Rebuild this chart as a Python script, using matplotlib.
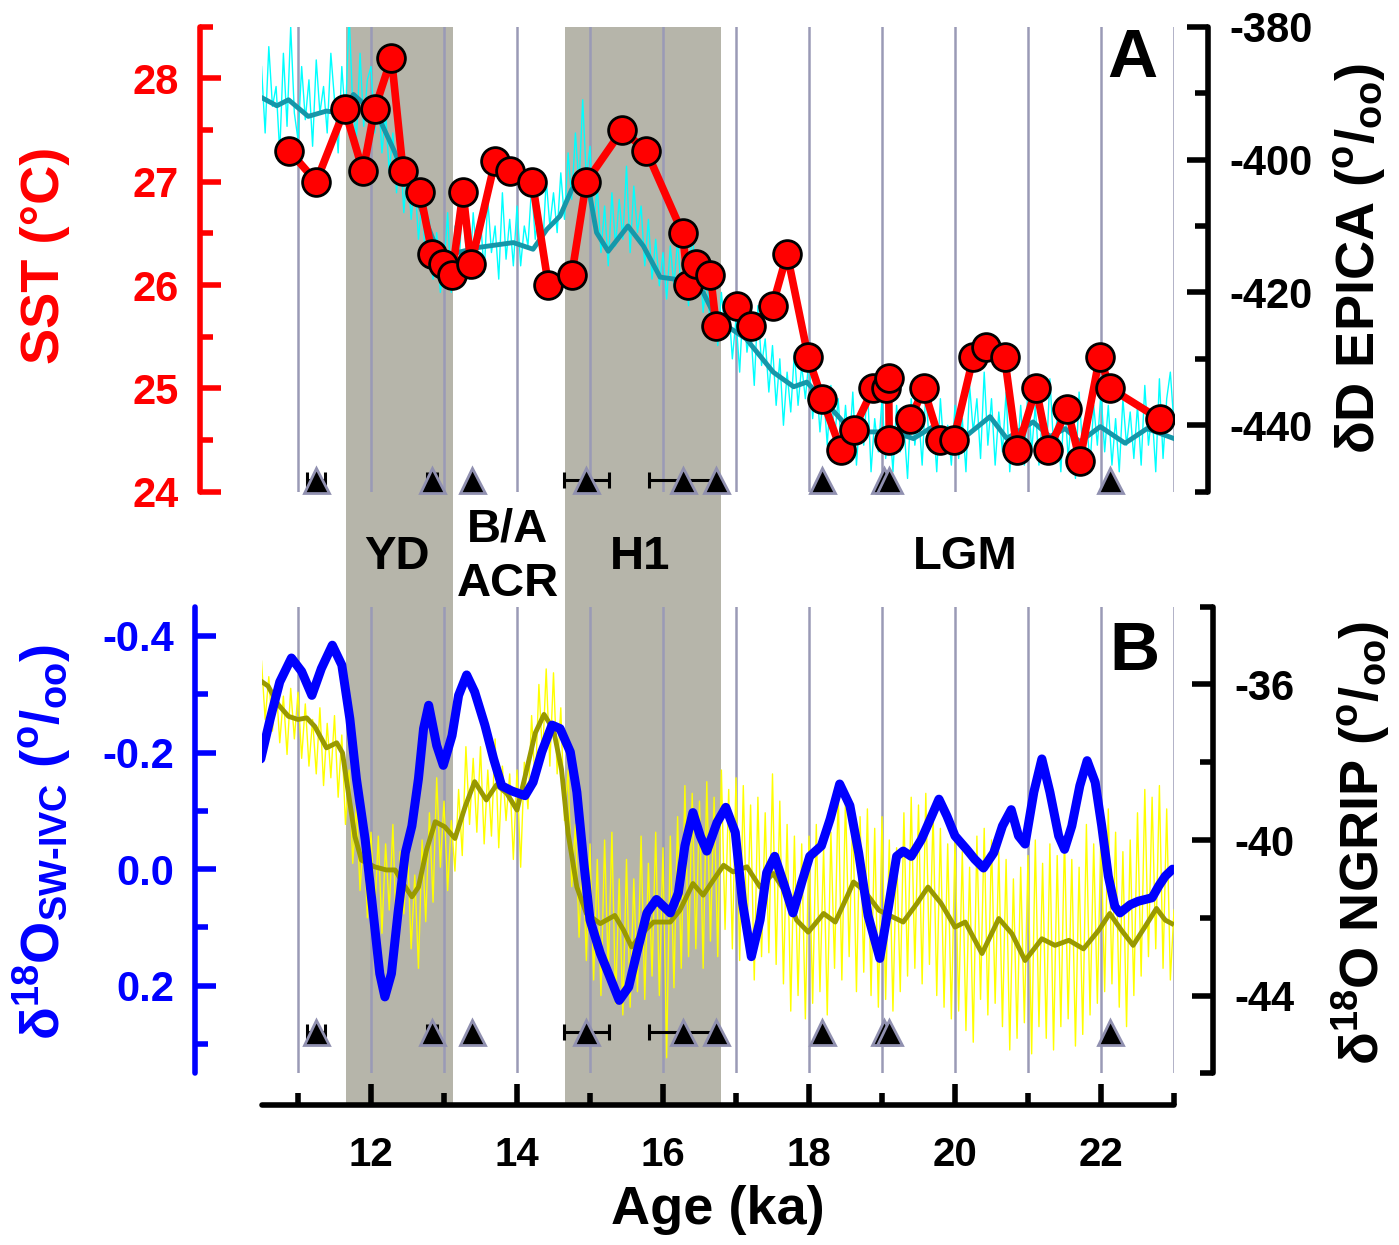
import numpy as np
import matplotlib.pyplot as plt

plt.rcParams['font.family'] = ['Liberation Sans', 'DejaVu Sans']
plt.rcParams['font.weight'] = 'bold'
plt.rcParams['mathtext.fontset'] = 'custom'
plt.rcParams['mathtext.rm'] = 'Liberation Sans:bold'
plt.rcParams['mathtext.it'] = 'Liberation Sans:bold'
plt.rcParams['mathtext.bf'] = 'Liberation Sans:bold'
plt.rcParams['axes.unicode_minus'] = False

# ---- data ----
zones = [(11.66, 13.12), (14.66, 16.79)]   # YD, H1

# SST (left axis, panel A)
sst_age = [10.88, 11.25, 11.64, 11.89, 12.05, 12.28, 12.44, 12.67, 12.84, 12.99,
           13.11, 13.26, 13.37, 13.70, 13.90, 14.21, 14.43, 14.75, 14.95, 15.44,
           15.77, 16.27, 16.34, 16.45, 16.65, 16.73, 17.02, 17.20, 17.50, 17.70,
           17.99, 18.18, 18.44, 18.61, 18.88, 19.06, 19.09, 19.10, 19.39, 19.57,
           19.79, 19.98, 20.25, 20.42, 20.68, 20.85, 21.11, 21.28, 21.54, 21.71,
           21.98, 22.13, 22.81]
sst = [27.3, 27.0, 27.7, 27.1, 27.7, 28.2, 27.1, 26.9, 26.3, 26.2,
       26.1, 26.9, 26.2, 27.2, 27.1, 27.0, 26.0, 26.1, 27.0, 27.5,
       27.3, 26.5, 26.0, 26.2, 26.1, 25.6, 25.8, 25.6, 25.8, 26.3,
       25.3, 24.9, 24.4, 24.6, 25.0, 25.0, 25.1, 24.5, 24.7, 25.0,
       24.5, 24.5, 25.3, 25.4, 25.3, 24.4, 25.0, 24.4, 24.8, 24.3,
       25.3, 25.0, 24.7]

# EPICA dD raw (right axis, panel A), 0.05 ka steps from 10.5 to 23.0
epica_age = np.round(np.arange(10.5, 23.0001, 0.05), 2)
epica_raw = [
    -386, -396, -383, -392, -389, -399, -384, -395, -380, -393,
    -397, -386, -394, -388, -398, -385, -393, -389, -396, -384,
    -391, -399, -386, -394, -378, -392, -397, -384, -395, -388,
    -386, -396, -390, -399, -393, -402, -396, -405, -398, -408,
    -400, -409, -403, -412, -406, -416, -409, -418, -411, -420,
    -416, -408, -420, -410, -417, -407, -413, -418, -408, -415,
    -409, -417, -406, -414, -410, -418, -405, -415, -409, -416,
    -407, -416, -410, -413, -404, -412, -407, -414, -403, -410,
    -405, -411, -402, -409, -399, -406, -396, -404, -391, -403,
    -398, -410, -404, -414, -407, -416, -405, -413, -406, -412,
    -401, -414, -404, -411, -407, -416, -409, -418, -412, -419,
    -414, -421, -413, -419, -412, -420, -415, -422, -410, -419,
    -414, -423, -417, -426, -419, -428, -420, -426, -422, -430,
    -424, -432, -421, -429, -425, -434, -422, -431, -427, -435,
    -428, -437, -430, -440, -432, -438, -429, -437, -431, -436,
    -430, -439, -433, -441, -435, -443, -434, -442, -436, -445,
    -437, -444, -435, -446, -438, -443, -434, -447, -439, -444,
    -436, -445, -439, -447, -437, -444, -440, -448, -436, -443,
    -438, -446, -435, -443, -439, -447, -436, -444, -440, -446,
    -437, -445, -439, -447, -434, -441, -436, -445, -432, -443,
    -436, -446, -438, -444, -435, -447, -439, -445, -437, -446,
    -434, -444, -437, -446, -438, -445, -433, -443, -439, -447,
    -436, -445, -438, -448, -435, -444, -439, -446, -437, -443,
    -435, -444, -437, -446, -439, -447, -436, -443, -438, -445,
    -437, -446, -434, -443, -438, -447, -433, -445, -436, -432,
    -440]

# EPICA dD smoothed
epica_sm_age = [10.49, 10.71, 10.87, 11.14, 11.39, 11.58, 11.76, 11.94, 12.12, 12.31,
                12.49, 12.67, 12.85, 12.99, 13.49, 13.95, 14.22, 14.41, 14.59, 14.75,
                14.95, 15.09, 15.25, 15.52, 15.73, 15.96, 16.16, 16.55, 16.73, 17.14,
                17.51, 17.79, 17.97, 18.24, 18.47, 18.79, 19.15, 19.43, 19.70, 19.95,
                20.11, 20.48, 20.71, 21.07, 21.30, 21.51, 21.71, 21.99, 22.33, 22.63,
                23.00]
epica_sm = [-390.6, -391.9, -391.0, -393.5, -392.7, -393.0, -390.2, -392.0, -394.0, -398.5,
            -403.0, -407.0, -412.0, -414.5, -413.2, -412.5, -413.5, -410.5, -408.5, -404.5,
            -402.5, -411.0, -413.8, -410.0, -413.0, -417.7, -418.0, -420.0, -424.0, -427.0,
            -432.0, -434.2, -433.5, -436.7, -439.5, -441.0, -441.0, -442.0, -440.2, -441.5,
            -442.0, -438.7, -442.0, -439.5, -441.7, -440.5, -442.5, -440.2, -442.7, -440.5,
            -442.0]

# d18O sw-ivc (left axis, panel B)
sw_age = [10.49, 10.62, 10.75, 10.91, 11.05, 11.19, 11.32, 11.47, 11.60, 11.71,
          11.80, 11.92, 12.03, 12.12, 12.19, 12.28, 12.37, 12.47, 12.56, 12.65,
          12.72, 12.79, 12.90, 12.99, 13.11, 13.20, 13.31, 13.42, 13.56, 13.68,
          13.79, 13.93, 14.11, 14.22, 14.34, 14.48, 14.59, 14.73, 14.82, 14.91,
          15.00, 15.14, 15.27, 15.40, 15.53, 15.64, 15.78, 15.91, 16.10, 16.21,
          16.30, 16.41, 16.51, 16.60, 16.74, 16.86, 16.99, 17.09, 17.21, 17.33,
          17.42, 17.53, 17.65, 17.78, 17.90, 18.01, 18.17, 18.29, 18.42, 18.56,
          18.68, 18.81, 18.97, 19.09, 19.20, 19.29, 19.40, 19.54, 19.68, 19.78,
          19.89, 20.00, 20.16, 20.27, 20.39, 20.53, 20.65, 20.77, 20.87, 20.96,
          21.08, 21.19, 21.30, 21.42, 21.50, 21.60, 21.71, 21.81, 21.92, 22.01,
          22.10, 22.19, 22.26, 22.40, 22.51, 22.70, 22.79, 22.88, 22.98]
sw = [-0.189, -0.258, -0.321, -0.362, -0.339, -0.298, -0.344, -0.384, -0.350, -0.258,
      -0.155, -0.051, 0.075, 0.179, 0.219, 0.179, 0.075, -0.028, -0.074, -0.155,
      -0.241, -0.281, -0.212, -0.178, -0.229, -0.298, -0.333, -0.304, -0.247, -0.189,
      -0.143, -0.134, -0.126, -0.149, -0.201, -0.247, -0.241, -0.201, -0.132, -0.017,
      0.087, 0.144, 0.184, 0.225, 0.202, 0.144, 0.075, 0.052, 0.075, 0.041,
      -0.040, -0.097, -0.057, -0.031, -0.080, -0.106, -0.063, 0.058, 0.150, 0.087,
      0.006, -0.022, 0.023, 0.075, 0.023, -0.022, -0.040, -0.086, -0.146, -0.109,
      -0.028, 0.080, 0.153, 0.064, -0.022, -0.031, -0.022, -0.051, -0.091, -0.120,
      -0.091, -0.057, -0.034, -0.017, -0.002, -0.028, -0.074, -0.102, -0.057, -0.043,
      -0.132, -0.189, -0.132, -0.057, -0.034, -0.074, -0.143, -0.186, -0.149, -0.074,
      0.012, 0.064, 0.075, 0.061, 0.055, 0.049, 0.029, 0.012, 0.000]

# NGRIP d18O raw (right axis, panel B), 0.05 ka steps
ngrip_age = np.round(np.arange(10.5, 23.0001, 0.05), 2)
ngrip_raw = [
    -35.4, -36.9, -35.8, -37.2, -36.0, -37.5, -36.3, -37.8, -36.1, -37.4,
    -36.2, -37.9, -36.5, -38.1, -36.9, -38.3, -36.6, -38.6, -37.0, -38.4,
    -36.8, -38.9, -37.3, -39.6, -38.2, -40.6, -39.1, -41.3, -39.7, -42.0,
    -39.8, -41.9, -39.9, -42.4, -40.1, -41.8, -39.6, -42.7, -40.3, -41.9,
    -40.2, -42.8, -40.9, -43.3, -40.0, -42.1, -39.3, -41.6, -38.4, -40.7,
    -39.0, -41.3, -39.5, -40.8, -38.7, -40.4, -37.6, -39.6, -37.9, -39.8,
    -37.6, -40.1, -38.2, -39.9, -37.4, -40.2, -38.1, -39.5, -38.3, -40.5,
    -38.2, -40.7, -38.0, -39.2, -36.8, -38.6, -36.0, -37.9, -35.6, -38.1,
    -35.7, -38.3, -36.6, -39.5, -38.2, -41.2, -39.6, -42.5, -40.3, -43.1,
    -40.1, -43.6, -40.5, -44.0, -40.0, -43.4, -39.8, -44.2, -41.0, -44.5,
    -40.5, -44.3, -41.0, -43.9, -39.9, -44.1, -40.6, -43.5, -39.8, -44.0,
    -40.2, -45.6, -39.9, -43.8, -39.4, -43.3, -38.6, -43.0, -38.8, -42.8,
    -39.0, -43.3, -38.5, -42.6, -38.9, -43.0, -38.2, -42.3, -38.7, -42.8,
    -38.4, -43.1, -38.6, -42.5, -39.1, -43.6, -38.9, -43.0, -39.3, -42.9,
    -38.3, -43.2, -39.0, -43.7, -39.6, -44.4, -39.9, -44.0, -40.1, -44.6,
    -39.9, -44.2, -39.6, -43.9, -40.2, -44.5, -39.8, -43.3, -38.7, -43.6,
    -38.9, -43.0, -39.3, -43.9, -39.4, -43.4, -39.2, -44.0, -39.7, -44.3,
    -39.4, -44.1, -40.0, -44.4, -40.2, -43.9, -39.3, -43.5, -38.9, -43.3,
    -39.1, -43.7, -38.8, -43.2, -39.3, -44.0, -39.7, -44.3, -40.1, -44.6,
    -40.0, -44.4, -40.3, -44.9, -40.7, -45.2, -39.9, -44.1, -39.7, -44.5,
    -40.0, -44.2, -40.3, -44.8, -40.5, -45.4, -41.0, -45.1, -40.7, -44.7,
    -40.4, -45.5, -40.0, -44.8, -40.6, -45.1, -40.1, -45.4, -40.4, -44.8,
    -39.9, -44.6, -40.5, -45.3, -40.7, -45.0, -39.6, -44.5, -40.1, -44.2,
    -39.7, -43.9, -39.2, -43.7, -39.8, -44.3, -40.3, -44.8, -40.0, -44.0,
    -39.3, -43.5, -38.7, -43.0, -38.9, -42.8, -38.6, -43.3, -39.2, -43.6,
    -41.8]

# NGRIP smoothed
ngrip_sm_age = [10.49, 10.59, 10.73, 10.87, 11.00, 11.12, 11.23, 11.39, 11.53, 11.61,
                11.69, 11.78, 11.87, 12.05, 12.21, 12.33, 12.44, 12.56, 12.65, 12.76,
                12.88, 13.01, 13.15, 13.29, 13.42, 13.58, 13.72, 13.86, 14.00, 14.11,
                14.25, 14.37, 14.50, 14.61, 14.70, 14.82, 14.95, 15.14, 15.34, 15.46,
                15.57, 15.71, 15.87, 16.10, 16.23, 16.41, 16.55, 16.69, 16.83, 16.96,
                17.15, 17.33, 17.51, 17.69, 17.83, 17.99, 18.20, 18.36, 18.52, 18.61,
                18.75, 18.96, 19.29, 19.48, 19.63, 19.81, 20.00, 20.14, 20.37, 20.60,
                20.78, 20.96, 21.19, 21.37, 21.56, 21.76, 21.97, 22.12, 22.28, 22.44,
                22.60, 22.76, 22.88, 22.97]
ngrip_sm = [-35.91, -36.04, -36.52, -36.82, -36.90, -36.86, -37.08, -37.63, -37.50, -37.76,
            -38.79, -39.91, -40.52, -40.69, -40.77, -40.77, -41.12, -41.46, -41.21, -40.26,
            -39.53, -39.66, -39.96, -39.14, -38.50, -38.97, -38.58, -38.80, -39.23, -38.37,
            -37.25, -36.77, -37.16, -38.19, -39.83, -41.21, -41.89, -42.15, -41.94, -42.32,
            -42.75, -42.41, -42.11, -42.11, -41.81, -41.12, -41.42, -41.03, -40.65, -40.82,
            -40.69, -41.21, -40.86, -41.38, -42.06, -42.37, -41.89, -42.11, -41.46, -41.08,
            -41.29, -41.81, -42.11, -41.63, -41.21, -41.63, -42.24, -42.11, -42.92, -42.02,
            -42.41, -43.10, -42.54, -42.71, -42.58, -42.80, -42.32, -41.89, -42.32, -42.71,
            -42.24, -41.76, -42.06, -42.15]

# age control points
tie_age = [11.25, 12.84, 13.38, 14.95, 16.27, 16.73, 18.18, 19.03, 19.10, 22.13]
tie_err = [0.12, 0.07, 0.0, 0.31, 0.46, 0.0, 0.0, 0.0, 0.0, 0.0]
tie_level_a = 24.11
tie_level_b = 0.279

# ---- style ----
shade = '#b6b5aa'
grid = '#9a9ab6'
W, H = 1399, 1245
X0, X1 = 261.5, 1174


def rect(x0, y0, x1, y1):
    return [x0 / W, 1 - y1 / H, (x1 - x0) / W, (y1 - y0) / H]


def only_spine(ax, side, color, offset):
    for s in ax.spines:
        ax.spines[s].set_visible(s == side)
    sp = ax.spines[side]
    sp.set_position(('outward', offset))
    sp.set_color(color)
    sp.set_linewidth(4)
    sp.set_capstyle('round')
    ax.set_xticks([])
    ax.patch.set_visible(False)
    ax.set_xlim(10.5, 23)


def yticks(ax, major, minor, color, labels):
    ax.set_yticks(major)
    ax.set_yticklabels(labels)
    ax.set_yticks(minor, minor=True)
    ax.tick_params(axis='y', which='major', direction='in', length=15, width=4,
                   pad=15, labelsize=30, colors=color)
    ax.tick_params(axis='y', which='minor', direction='in', length=9.5, width=4,
                   colors=color)


fig = plt.figure(figsize=(13.99, 12.45), dpi=100)

# background: shading + age axis
bg = fig.add_axes(rect(X0, 26.7, X1, 1105))
bg.set_xlim(10.5, 23)
bg.set_ylim(0, 1)
for a, b in zones:
    bg.axvspan(a, b, color=shade, lw=0)
for s in bg.spines:
    bg.spines[s].set_visible(s == 'bottom')
bg.spines['bottom'].set_linewidth(4)
bg.spines['bottom'].set_capstyle('round')
bg.set_yticks([])
bg.set_xticks(range(12, 23, 2))
bg.set_xticks(range(11, 24, 2), minor=True)
bg.tick_params(axis='x', which='major', direction='in', length=15, width=4,
               pad=22, labelsize=29)
bg.tick_params(axis='x', which='minor', direction='in', length=9, width=4)
bg.set_xlabel('Age (ka)', fontsize=39, fontweight='bold', labelpad=8)

# panel A, right axis: EPICA
aAr = fig.add_axes(rect(X0, 26.7, X1, 491.7))
only_spine(aAr, 'right', 'k', 24.7)
aAr.set_ylim(-450, -380)
aAr.yaxis.tick_right()
yticks(aAr, [-440, -420, -400, -380], [-450, -430, -410, -390], 'k',
       ['-440', '-420', '-400', '-380'])
for g in range(11, 24):
    aAr.axvline(g, color=grid, lw=1.8, zorder=0)
aAr.plot(epica_age, epica_raw, color='#00ffff', lw=1.0)
aAr.plot(epica_sm_age, epica_sm, color='#1597a9', lw=3.5, solid_joinstyle='round')

# panel A, left axis: SST
aAl = fig.add_axes(rect(X0, 26.7, X1, 491.7))
only_spine(aAl, 'left', 'red', 44.5)
aAl.set_ylim(24, 28.5)
yticks(aAl, [24, 25, 26, 27, 28], [24.5, 25.5, 26.5, 27.5, 28.5], 'red',
       ['24', '25', '26', '27', '28'])
aAl.plot(sst_age, sst, color='red', lw=5.5, marker='o', ms=20, mfc='red',
         mec='k', mew=2, solid_joinstyle='round', zorder=3)

# panel B, right axis: NGRIP
aBr = fig.add_axes(rect(X0, 606.7, X1, 1073.3))
only_spine(aBr, 'right', 'k', 28.3)
aBr.set_ylim(-46, -34)
aBr.yaxis.tick_right()
yticks(aBr, [-44, -40, -36], [-46, -42, -38, -34], 'k', ['-44', '-40', '-36'])
for g in range(11, 24):
    aBr.axvline(g, color=grid, lw=1.8, zorder=0)
aBr.plot(ngrip_age, ngrip_raw, color='#ffff00', lw=1.0)
aBr.plot(ngrip_sm_age, ngrip_sm, color='#999900', lw=3.5, solid_joinstyle='round')

# panel B, left axis: d18O sw-ivc
aBl = fig.add_axes(rect(X0, 606.7, X1, 1073.3))
only_spine(aBl, 'left', 'blue', 47.9)
aBl.set_ylim(0.35, -0.45)
yticks(aBl, [-0.4, -0.2, 0.0, 0.2], [-0.3, -0.1, 0.1, 0.3], 'blue',
       ['-0.4', '-0.2', '0.0', '0.2'])
aBl.plot(sw_age, sw, color='blue', lw=6.5, solid_joinstyle='round',
         solid_capstyle='round', zorder=3)

# age control triangles with errors
for ax, lev in [(aAl, tie_level_a), (aBl, tie_level_b)]:
    ys = [lev] * len(tie_age)
    ax.errorbar(tie_age, ys, xerr=tie_err, fmt='none', ecolor='k', elinewidth=2.2,
                capsize=6, capthick=2.2, zorder=4, clip_on=False)
    ax.plot(tie_age, ys, ls='none', marker='^', ms=18, mfc='k', mec='#9090b0',
            mew=2, zorder=5, clip_on=False)

# labels
fig.text(45 / W, 1 - 255 / H, 'SST (°C)', color='red', fontsize=39,
         rotation=90, ha='center', va='center')
fig.text(1361 / W, 1 - 258 / H, 'δD EPICA ($^{o}$/$_{oo}$)', fontsize=39,
         rotation=90, ha='center', va='center')
fig.text(42 / W, 1 - 842 / H, 'δ$^{18}$O$_{SW\u2010IVC}$ ($^{o}$/$_{oo}$)', color='blue',
         fontsize=39, rotation=90, ha='center', va='center')
fig.text(1361 / W, 1 - 843 / H, 'δ$^{18}$O NGRIP ($^{o}$/$_{oo}$)', fontsize=39,
         rotation=90, ha='center', va='center')

fig.text(1132 / W, 1 - 59 / H, 'A', fontsize=50, ha='center', va='center')
fig.text(1134 / W, 1 - 652 / H, 'B', fontsize=50, ha='center', va='center')
fig.text(397 / W, 1 - 557 / H, 'YD', fontsize=34, ha='center', va='center')
fig.text(508 / W, 1 - 530 / H, 'B/A', fontsize=34, ha='center', va='center')
fig.text(508 / W, 1 - 584 / H, 'ACR', fontsize=34, ha='center', va='center')
fig.text(640 / W, 1 - 557 / H, 'H1', fontsize=34, ha='center', va='center')
fig.text(965 / W, 1 - 557 / H, 'LGM', fontsize=34, ha='center', va='center')

fig.savefig('out.png', dpi=100)
